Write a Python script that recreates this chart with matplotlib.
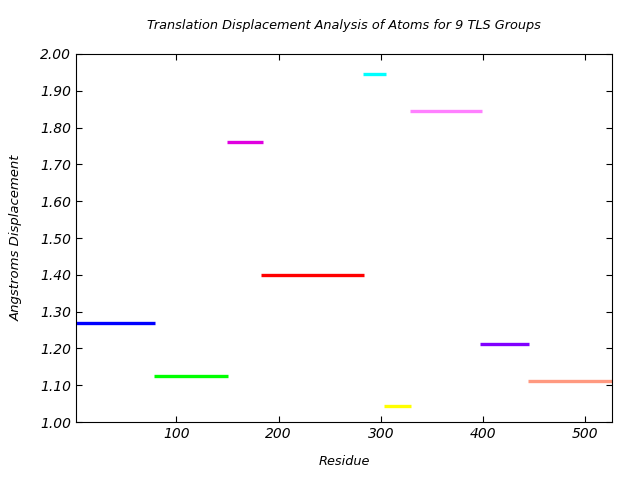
import matplotlib
matplotlib.use("Agg")
import matplotlib.pyplot as plt

# TLS groups: residue start, residue end, displacement
starts = [1, 78, 150, 183, 283, 303, 329, 397, 444]
ends = [79, 151, 185, 284, 305, 330, 399, 445, 526]
disp = [1.268, 1.124, 1.761, 1.400, 1.945, 1.043, 1.844, 1.211, 1.111]
colors = ["#0000ff", "#00ff00", "#e000e0", "#ff0000", "#00ffff",
          "#ffff00", "#ff80ff", "#8000ff", "#ff9980"]

fig = plt.figure(figsize=(6.4, 4.8), dpi=100)
ax = fig.add_axes([0.119, 0.1208, 0.837, 0.7667])

for s, e, d, c in zip(starts, ends, disp, colors):
    ax.plot([s, e], [d, d], color=c, linewidth=2.4, solid_capstyle="butt")

ax.set_xlim(2, 526)
ax.set_ylim(1.0, 2.0)
ax.set_xticks([100, 200, 300, 400, 500])
ax.set_yticks([1.0 + 0.1 * i for i in range(11)])
ax.set_yticklabels(["%.2f" % (1.0 + 0.1 * i) for i in range(11)])
ax.tick_params(direction="in", length=4.5, width=0.8, top=True, right=True,
               labelsize=10)
for lab in ax.get_xticklabels() + ax.get_yticklabels():
    lab.set_style("italic")

ax.set_title("Translation Displacement Analysis of Atoms for 9 TLS Groups",
             fontsize=9.3, style="italic", pad=18)
ax.set_xlabel("Residue", fontsize=9.3, style="italic", labelpad=10)
ax.set_ylabel("Angstroms Displacement", fontsize=9.5, style="italic", labelpad=13)

fig.savefig("out.png", dpi=100)
